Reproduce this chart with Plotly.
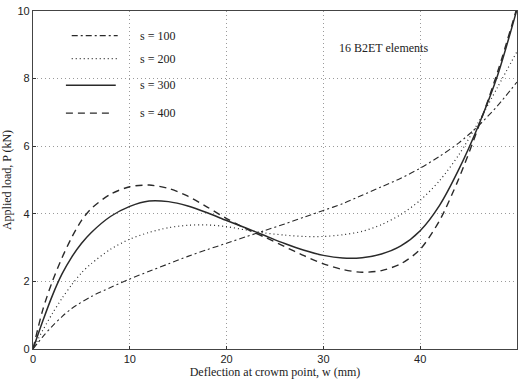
import plotly.graph_objects as go

w_400 = [0, 1, 2, 3, 4, 5, 6, 8, 10, 12, 14, 16, 18, 20, 22, 24, 26, 28, 30, 32, 34, 36, 38, 40, 42, 44, 46, 48, 50]
p_400 = [0, 1.15, 2.0, 2.7, 3.3, 3.8, 4.15, 4.58, 4.8, 4.85, 4.75, 4.52, 4.2, 3.86, 3.56, 3.3, 3.03, 2.76, 2.52, 2.35, 2.27, 2.32, 2.52, 2.95, 3.8, 5.05, 6.55, 8.2, 10.1]

w_300 = [0, 1, 2, 3, 4, 5, 6, 8, 10, 12, 14, 16, 18, 20, 22, 24, 26, 28, 30, 32, 34, 36, 38, 40, 42, 44, 46, 48, 50]
p_300 = [0, 0.82, 1.58, 2.22, 2.72, 3.12, 3.44, 3.92, 4.22, 4.38, 4.36, 4.23, 4.03, 3.8, 3.58, 3.35, 3.12, 2.92, 2.77, 2.69, 2.7, 2.81, 3.05, 3.5, 4.25, 5.32, 6.6, 8.1, 10.05]

w_200 = [0, 1, 2, 3, 4, 5, 6, 8, 10, 12, 14, 16, 18, 20, 22, 24, 26, 28, 30, 32, 34, 36, 38, 40, 42, 44, 46, 48, 50]
p_200 = [0, 0.55, 1.05, 1.5, 1.9, 2.25, 2.52, 2.95, 3.25, 3.45, 3.59, 3.66, 3.67, 3.62, 3.52, 3.43, 3.37, 3.33, 3.33, 3.38, 3.48, 3.68, 3.98, 4.4, 4.98, 5.75, 6.7, 7.75, 8.8]

w_100 = [0, 1, 2, 3, 4, 6, 8, 10, 12, 14, 16, 18, 20, 22, 24, 26, 28, 30, 32, 34, 36, 38, 40, 42, 44, 46, 48, 50]
p_100 = [0, 0.36, 0.68, 0.96, 1.2, 1.55, 1.82, 2.07, 2.3, 2.52, 2.74, 2.94, 3.13, 3.32, 3.51, 3.7, 3.9, 4.1, 4.3, 4.55, 4.8, 5.05, 5.35, 5.7, 6.1, 6.6, 7.2, 7.9]

x_ticks = [0, 10, 20, 30, 40, 50]
y_ticks = [0, 2, 4, 6, 8, 10]

series = [
    ("s = 100", w_100, p_100, "6px,3px,2px,3px", 1.1),
    ("s = 200", w_200, p_200, "1px,3px", 1.2),
    ("s = 300", w_300, p_300, "solid", 1.5),
    ("s = 400", w_400, p_400, "7px,5px", 1.4),
]

# legend layout (paper fractions of the plot area)
legend_y = [0.927, 0.859, 0.780, 0.698]
legend_x0 = [0.080, 0.080, 0.068, 0.068]
legend_x1 = [0.175, 0.175, 0.171, 0.160]
legend_text_x = 0.216

fig = go.Figure()
for i, (name, xs, ys, dash, lw) in enumerate(series):
    fig.add_trace(go.Scatter(
        x=xs, y=ys, mode="lines", name=name, showlegend=False,
        line=dict(color="#2a2a2a", width=lw, dash=dash, shape="spline", smoothing=0.8),
    ))
    fig.add_shape(type="line", xref="paper", yref="paper",
                  x0=legend_x0[i], x1=legend_x1[i], y0=legend_y[i], y1=legend_y[i],
                  line=dict(color="#2a2a2a", width=lw, dash=dash))
    fig.add_annotation(xref="paper", yref="paper", x=legend_text_x, y=legend_y[i],
                       xanchor="left", yanchor="middle", text=name, showarrow=False,
                       font=dict(family="Liberation Serif", size=12, color="#222"))

fig.add_annotation(x=36.2, y=8.9, xref="x", yref="y", text="16 B2ET elements",
                   showarrow=False, font=dict(family="Liberation Serif", size=12, color="#222"))

axis_common = dict(
    showline=True, linecolor="#444", linewidth=1.2, mirror=True,
    showgrid=True, gridcolor="#9a9a9a", gridwidth=1, griddash="1px,3px",
    zeroline=False, ticks="inside", ticklen=3, tickcolor="#333",
    tickfont=dict(family="Liberation Sans", size=11, color="#222"),
)

fig.update_layout(
    width=523, height=384,
    margin=dict(l=33, r=5, t=8, b=35),
    paper_bgcolor="white", plot_bgcolor="white",
    showlegend=False,
    xaxis=dict(range=[0, 50], tickvals=x_ticks,
               title=dict(text="Deflection at crowm point, w (mm)", standoff=0,
                          font=dict(family="Liberation Serif", size=12, color="#222")),
               **axis_common),
    yaxis=dict(range=[0, 10], tickvals=y_ticks,
               title=dict(text="Applied load, P (kN)", standoff=4,
                          font=dict(family="Liberation Serif", size=12, color="#222")),
               **axis_common),
)

fig.write_html("out.html")
